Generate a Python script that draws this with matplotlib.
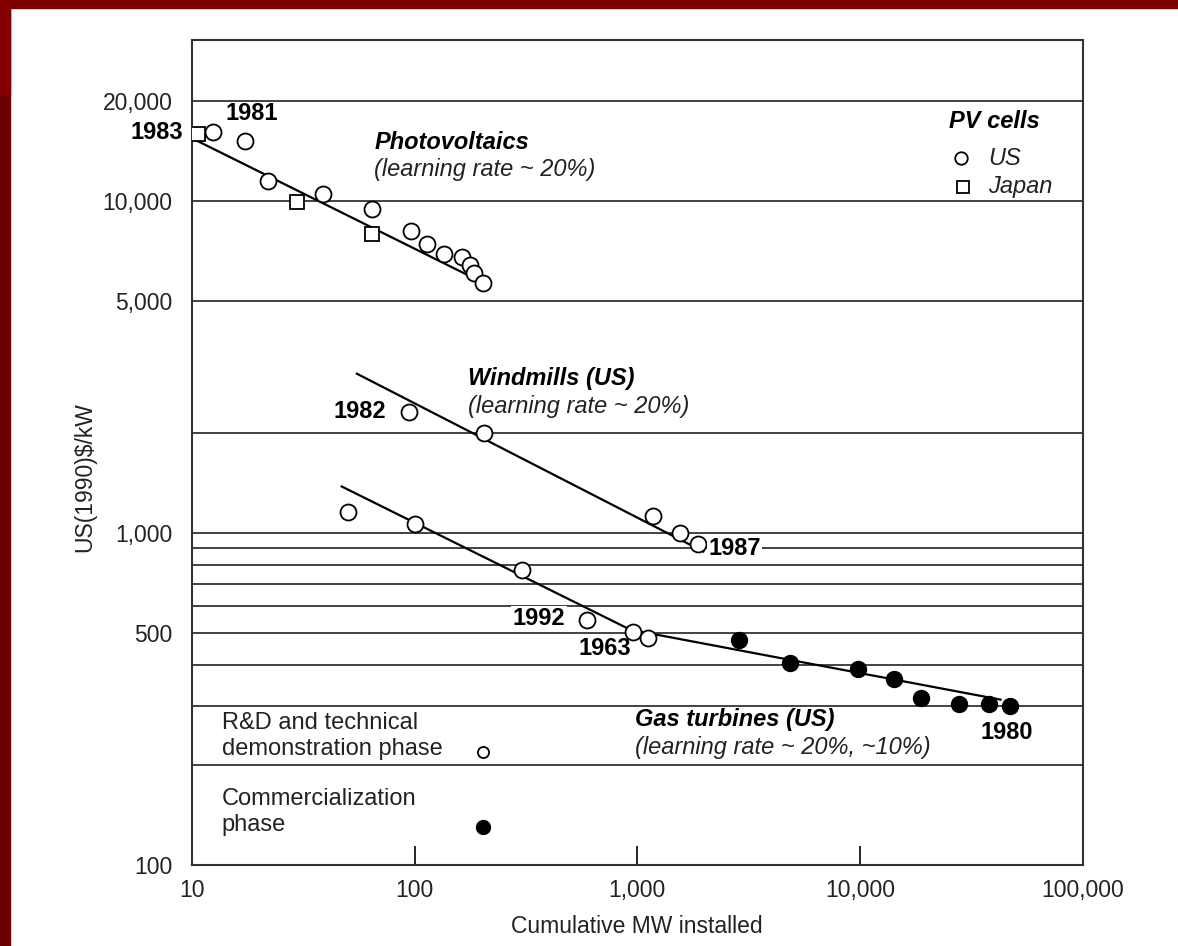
import matplotlib.pyplot as plt
from matplotlib.patches import Rectangle

plt.rcParams['font.family'] = ['Liberation Sans', 'DejaVu Sans']

# Photovoltaics, US cells (cumulative MW, US(1990)$/kW)
pv_us_mw = [12.4, 17.3, 22.0, 38.8, 64.4, 96.4, 114, 136, 163, 177, 185, 203]
pv_us_cost = [16100, 15070, 11480, 10500, 9460, 8070, 7410, 6920, 6770, 6410, 6070, 5660]
# Photovoltaics, Japan cells
pv_jp_mw = [10.6, 29.6, 64.4]
pv_jp_cost = [15900, 9930, 7910]
pv_fit_mw = [10, 215]
pv_fit_cost = [15400, 5550]

# Windmills (US)
wind_mw = [94.5, 205, 1180, 1560, 1880]
wind_cost = [2310, 2000, 1125, 1000, 927]
wind_fit_mw = [55, 1980]
wind_fit_cost = [3010, 877]

# Gas turbines (US): R&D phase (open) and commercialization phase (filled)
gas_rd_mw = [50.2, 100.5, 304, 596, 960, 1120]
gas_rd_cost = [1157, 1063, 774, 547, 503, 480]
gas_com_mw = [2870, 4870, 9840, 14160, 18900, 28000, 37800, 47400]
gas_com_cost = [476, 406, 389, 363, 318, 305, 305, 301]
gas_fit_mw = [47, 930, 42800]
gas_fit_cost = [1377, 510, 314]

grid_levels = [200, 300, 400, 500, 600, 700, 800, 900, 1000, 2000, 5000, 10000, 20000]
y_ticks = [100, 500, 1000, 5000, 10000, 20000]
y_tick_labels = ['100', '500', '1,000', '5,000', '10,000', '20,000']
x_ticks = [10, 100, 1000, 10000, 100000]
x_tick_labels = ['10', '100', '1,000', '10,000', '100,000']

fig = plt.figure(figsize=(11.78, 9.46), dpi=100)
ax = fig.add_axes([0.163, 0.086, 0.756, 0.872])
ax.set_xscale('log')
ax.set_yscale('log')
ax.set_xlim(10, 100000)
ax.set_ylim(100, 30500)

# red frame on the top and left
fig.patches.append(Rectangle((0, 1 - 8 / 946), 1, 8 / 946, transform=fig.transFigure,
                             color='#7d0000', zorder=0))
fig.patches.append(Rectangle((0, 0), 10 / 1178, 1, transform=fig.transFigure,
                             color='#6c0000', zorder=0))
fig.patches.append(Rectangle((0, 1 - 95 / 946), 10 / 1178, 95 / 946, transform=fig.transFigure,
                             color='#820000', zorder=0))

for lev in grid_levels:
    ax.axhline(lev, color='#222222', lw=1.2, zorder=1)

line_kw = dict(color='black', lw=1.6, zorder=2)
open_kw = dict(ls='none', marker='o', ms=11.5, mfc='white', mec='black', mew=1.3, zorder=3)
ax.plot(pv_fit_mw, pv_fit_cost, **line_kw)
ax.plot(wind_fit_mw, wind_fit_cost, **line_kw)
ax.plot(gas_fit_mw, gas_fit_cost, **line_kw)
ax.plot(pv_us_mw, pv_us_cost, **open_kw)
ax.plot(pv_jp_mw, pv_jp_cost, ls='none', marker='s', ms=9.5, mfc='white', mec='black',
        mew=1.3, zorder=3)
ax.plot(wind_mw, wind_cost, **open_kw)
ax.plot(gas_rd_mw, gas_rd_cost, **open_kw)
ax.plot(gas_com_mw, gas_com_cost, ls='none', marker='o', ms=11.5, color='black', zorder=3)

# phase key
ax.plot([203], [219], ls='none', marker='o', ms=8, mfc='white', mec='black', mew=1.3)
ax.plot([203], [130], ls='none', marker='o', ms=10, color='black')

# PV cells key
ax.plot([28300], [13400], ls='none', marker='o', ms=9, mfc='white', mec='black', mew=1.3)
ax.plot([28900], [11000], ls='none', marker='s', ms=8, mfc='white', mec='black', mew=1.3)

fs = 17
bi = dict(fontsize=fs, fontweight='bold', fontstyle='italic', va='center')
it = dict(fontsize=fs, fontstyle='italic', va='center', color='#222222')
yr = dict(fontsize=fs, fontweight='bold', va='center')
box = dict(facecolor='white', edgecolor='none', pad=1)

ax.text(66, 15000, 'Photovoltaics', **bi)
ax.text(66, 12400, '(learning rate ~ 20%)', **it)
ax.text(25000, 17300, 'PV cells', **bi)
ax.text(37800, 13400, 'US', **it)
ax.text(37800, 11000, 'Japan', **it)
ax.text(14.1, 18300, '1981', **yr)
ax.text(9.1, 16000, '1983', ha='right', **yr)

ax.text(174, 2910, 'Windmills (US)', **bi)
ax.text(173, 2400, '(learning rate ~ 20%)', **it)
ax.text(74.5, 2310, '1982', ha='right', **yr)
ax.text(2080, 895, '1987', bbox=box, **yr)

ax.text(475, 551, '1992', ha='right', bbox=box, **yr)
ax.text(543, 448, '1963', **yr)
ax.text(979, 273, 'Gas turbines (US)', **bi)
ax.text(979, 225, '(learning rate ~ 20%, ~10%)', **it)
ax.text(34800, 250, '1980', **yr)

ax.text(13.6, 244, 'R&D and technical\ndemonstration phase', fontsize=fs, va='center',
        linespacing=1.25, color='#222222')
ax.text(13.6, 144, 'Commercialization\nphase', fontsize=fs, va='center',
        linespacing=1.25, color='#222222')

ax.set_xticks(x_ticks)
ax.set_xticklabels(x_tick_labels)
ax.set_yticks(y_ticks)
ax.set_yticklabels(y_tick_labels)
ax.minorticks_off()
ax.tick_params(axis='x', direction='in', length=14, width=1.2, pad=10, labelsize=16.5,
               labelcolor='#222222')
ax.tick_params(axis='y', length=0, pad=14, labelsize=16.5, labelcolor='#222222')
ax.set_xlabel('Cumulative MW installed', fontsize=16.5, labelpad=10, color='#222222')
ax.set_ylabel('US(1990)$/kW', fontsize=16.5, color='#222222')
ax.yaxis.set_label_coords(-0.107, 0.47)
for sp in ax.spines.values():
    sp.set_color('#333333')
    sp.set_linewidth(1.5)

fig.savefig('out.png', dpi=100)
